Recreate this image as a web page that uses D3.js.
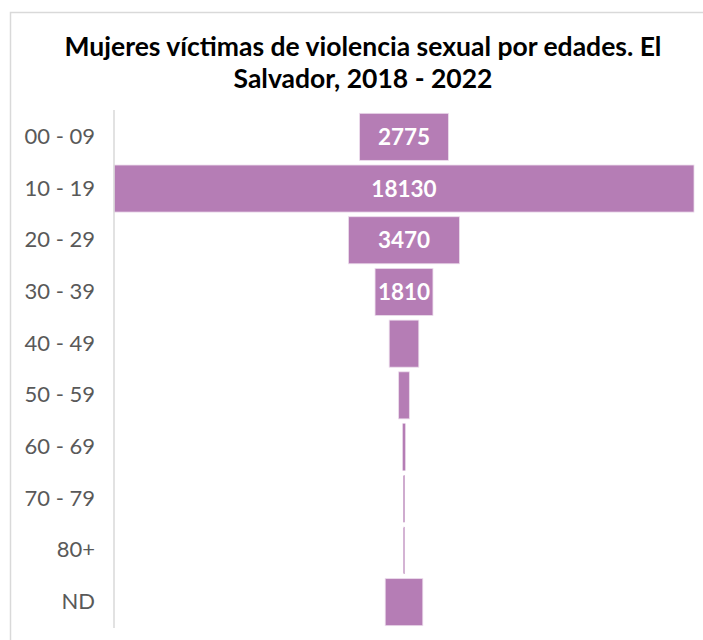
<!DOCTYPE html>
<html><head><meta charset="utf-8">
<script src="https://cdn.jsdelivr.net/npm/d3@7/dist/d3.min.js"></script>
<style>body{margin:0;background:#fff}</style>
</head><body>
<script>
const categories = ["00 - 09","10 - 19","20 - 29","30 - 39","40 - 49","50 - 59","60 - 69","70 - 79","80+","ND"];
const values = [2775,18130,3470,1810,925,335,85,45,40,1175];
const shownLabels = ["2775","18130","3470","1810","","","","","",""];
const titleLines = ["Mujeres víctimas de violencia sexual por edades. El","Salvador, 2018 - 2022"];

const W = 703, H = 640;
const svg = d3.select("body").append("svg").attr("width", W).attr("height", H);

// chart border
svg.append("rect").attr("x", 10.5).attr("y", 12.5).attr("width", W).attr("height", H)
  .attr("fill", "none").attr("stroke", "#d9d9d9").attr("stroke-width", 1.5);

const pL = 114, pR = 694, pT = 111, pB = 628;
const y = d3.scaleBand().domain(categories).range([pT, pB]).paddingInner(0.09).paddingOuter(0.045);
const w = d3.scaleLinear().domain([0, d3.max(values)]).range([0, pR - pL]);
const cx = (pL + pR) / 2;

svg.selectAll("text.title").data(titleLines).enter().append("text")
  .attr("x", 363).attr("y", (d, i) => 56 + i * 32)
  .attr("text-anchor", "middle").attr("font-family", "Lato, 'Open Sans', sans-serif")
  .attr("font-weight", "bold").attr("font-size", 26.5).attr("fill", "#000").text(d => d);

svg.selectAll("rect.bar").data(values).enter().append("rect")
  .attr("x", d => cx - w(d) / 2).attr("width", d => w(d))
  .attr("y", (d, i) => y(categories[i])).attr("height", y.bandwidth())
  .attr("fill", "#b57db5").attr("stroke", "#ecdcec").attr("stroke-width", d => w(d) > 5 ? 0.8 : 0.2);

svg.selectAll("text.val").data(values).enter().append("text")
  .attr("x", cx).attr("y", (d, i) => y(categories[i]) + y.bandwidth() / 2)
  .attr("dy", "0.36em").attr("text-anchor", "middle")
  .attr("font-family", "Lato, 'Open Sans', sans-serif").attr("font-weight", "bold")
  .attr("font-size", 22.5).attr("fill", "#fff").text((d, i) => shownLabels[i]);

const axis = d3.axisLeft(y).tickSize(0).tickPadding(19);
const g = svg.append("g").attr("transform", `translate(${pL},0)`).call(axis);
g.select(".domain").attr("stroke", "#d9d9d9").attr("stroke-width", 1.5)
  .attr("d", `M0,${pT - 1}V${pB}`);
g.selectAll(".tick text").attr("font-family", "Lato, 'Open Sans', sans-serif")
  .attr("font-size", 22).attr("fill", "#595959");
</script>
</body></html>
